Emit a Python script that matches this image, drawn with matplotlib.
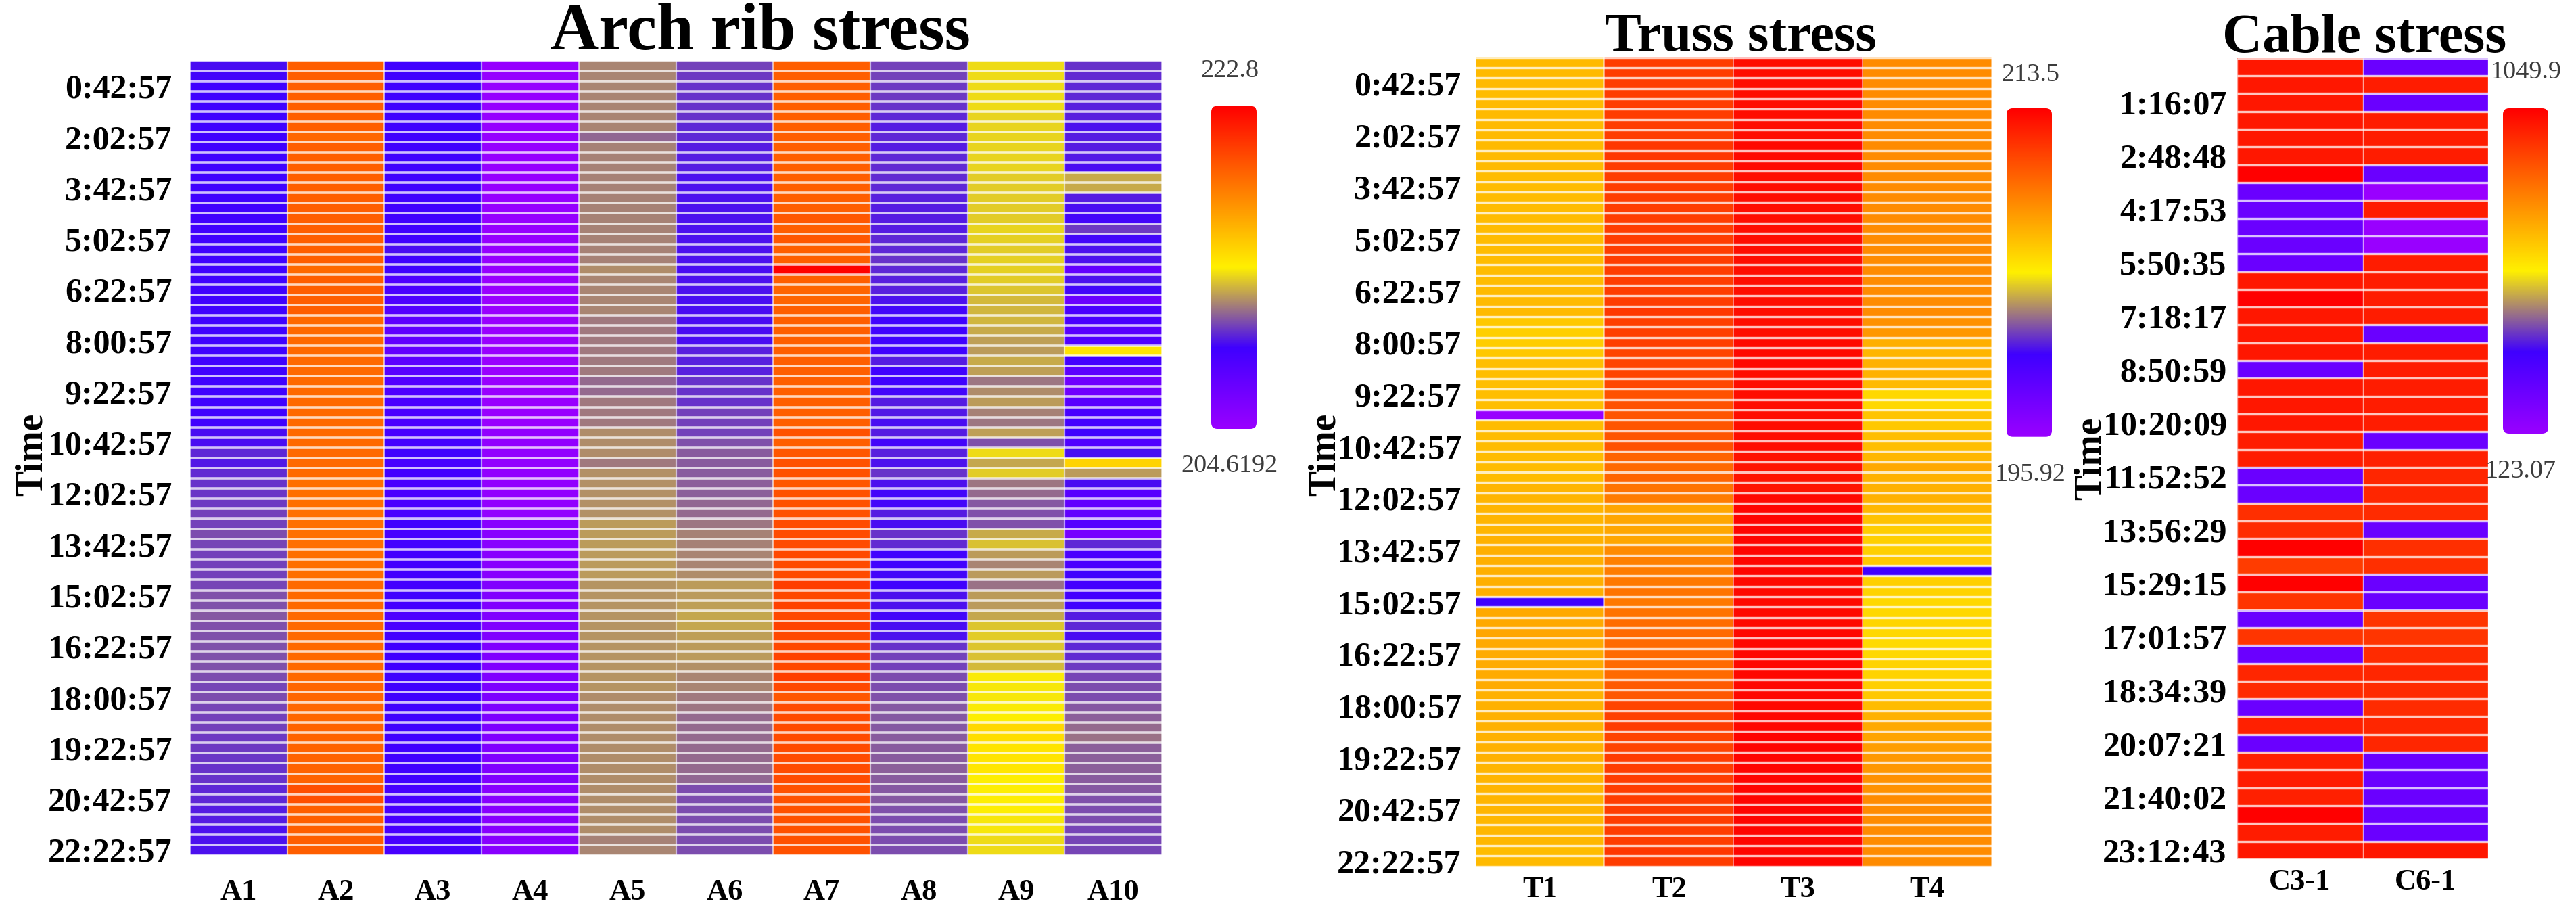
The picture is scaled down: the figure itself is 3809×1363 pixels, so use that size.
import numpy as np
import matplotlib
matplotlib.use("Agg")
import matplotlib.pyplot as plt
from matplotlib.colors import LinearSegmentedColormap
from matplotlib.patches import FancyBboxPatch

W, H = 3809, 1363
plt.rcParams['font.family'] = ['Liberation Serif', 'DejaVu Serif']

# arch rib stress, one list per member, rows top to bottom
A1 = [209.4, 209.3, 209.2, 209.2, 209.2, 209.2, 209.2, 209.2, 209.2, 209.2,
      209.2, 209.2, 209.2, 209.2, 209.2, 209.2, 209.2, 209.2, 209.2, 209.2,
      209.2, 209.2, 209.2, 209.2, 209.2, 209.2, 209.2, 209.2, 209.2, 209.2,
      209.2, 209.2, 209.2, 209.2, 209.2, 209.2, 209.4, 209.4, 209.9, 209.6,
      210.0, 210.1, 210.2, 210.3, 210.4, 210.4, 210.6, 210.5, 210.4, 210.4,
      210.4, 210.5, 210.7, 210.7, 210.8, 210.7, 210.7, 210.7, 210.7, 210.7,
      210.6, 210.5, 210.6, 210.5, 210.4, 210.4, 210.3, 210.3, 210.2, 210.1,
      210.1, 209.9, 209.9, 209.7, 209.7, 209.5, 209.5, 209.5]
A2 = [219.2, 219.2, 219.2, 219.2, 219.2, 219.2, 219.2, 218.9, 219.2, 219.2,
      219.2, 219.2, 219.2, 219.2, 219.2, 219.2, 219.2, 219.2, 219.2, 219.2,
      218.8, 219.2, 219.2, 219.2, 219.2, 218.8, 218.8, 218.8, 218.8, 218.8,
      218.8, 218.8, 218.8, 218.8, 218.8, 218.8, 218.8, 218.8, 218.8, 218.8,
      218.8, 218.6, 218.6, 218.6, 218.6, 218.6, 218.6, 218.6, 218.6, 218.6,
      218.6, 218.8, 218.8, 218.8, 218.8, 218.8, 218.8, 218.8, 218.8, 218.8,
      218.8, 218.9, 218.9, 218.9, 218.9, 219.1, 219.1, 219.1, 219.1, 219.1,
      219.1, 219.8, 219.8, 219.2, 219.2, 219.2, 219.2, 219.2]
A3 = [209.2, 209.2, 209.2, 209.2, 209.2, 209.2, 209.2, 209.2, 209.2, 209.2,
      209.2, 209.2, 209.2, 209.2, 209.2, 209.2, 209.2, 209.2, 209.4, 209.2,
      209.2, 208.4, 208.6, 208.4, 208.1, 207.7, 207.6, 207.5, 207.4, 207.7,
      207.9, 208.3, 208.4, 208.6, 208.6, 208.6, 208.8, 209.0, 209.2, 208.8,
      209.0, 208.8, 208.6, 208.6, 208.6, 209.2, 208.8, 209.0, 209.0, 209.0,
      209.0, 209.0, 209.2, 209.0, 208.4, 208.6, 209.0, 209.1, 209.1, 209.1,
      209.2, 209.2, 209.2, 209.2, 209.2, 209.2, 209.1, 209.1, 209.1, 209.1,
      209.1, 208.8, 208.8, 208.8, 208.8, 208.8, 208.8, 208.8]
A4 = [204.8, 204.8, 204.8, 204.8, 204.8, 204.8, 204.8, 204.8, 204.8, 204.8,
      204.8, 204.8, 204.8, 204.8, 204.8, 204.8, 204.8, 204.8, 204.8, 204.8,
      204.8, 204.6, 204.6, 204.6, 204.6, 204.6, 204.6, 204.6, 204.6, 204.6,
      204.6, 204.6, 204.6, 204.6, 204.6, 204.6, 205.0, 205.0, 205.0, 205.0,
      205.0, 205.0, 205.0, 205.0, 205.0, 205.5, 205.5, 205.5, 205.5, 205.5,
      205.5, 205.9, 205.9, 205.9, 205.9, 205.9, 205.9, 205.9, 205.9, 205.9,
      205.9, 206.1, 206.1, 206.1, 206.1, 206.1, 205.9, 205.9, 205.9, 205.9,
      205.9, 205.5, 205.5, 205.5, 205.5, 205.5, 205.5, 205.5]
A5 = [211.7, 211.7, 211.7, 211.7, 211.7, 211.7, 211.7, 211.1, 211.6, 211.6,
      211.6, 211.6, 211.6, 211.6, 211.6, 211.6, 211.6, 211.6, 211.6, 211.6,
      211.8, 211.7, 211.7, 211.7, 211.7, 211.5, 211.5, 211.5, 211.5, 211.5,
      211.5, 211.2, 211.2, 211.5, 211.5, 211.5, 211.8, 211.8, 211.8, 211.5,
      211.9, 211.9, 211.9, 211.9, 211.9, 212.1, 212.1, 212.1, 212.1, 212.1,
      212.1, 212.0, 212.0, 212.0, 212.0, 212.0, 212.0, 212.0, 212.0, 212.0,
      212.0, 212.0, 211.8, 211.8, 211.8, 211.8, 211.8, 211.8, 211.8, 211.8,
      211.8, 211.8, 211.8, 211.8, 211.8, 211.8, 211.6, 211.7]
A6 = [210.4, 210.3, 210.1, 210.1, 210.1, 210.1, 209.9, 209.9, 209.7, 209.7,
      209.7, 209.5, 209.5, 209.5, 209.5, 209.5, 209.5, 209.5, 209.5, 209.5,
      209.4, 209.5, 209.5, 209.4, 209.4, 209.4, 209.4, 209.4, 209.8, 209.8,
      209.8, 210.1, 210.1, 210.1, 210.4, 210.4, 210.4, 210.7, 210.9, 210.9,
      210.9, 211.0, 211.0, 211.1, 211.2, 211.4, 211.6, 211.6, 211.7, 211.7,
      211.8, 212.1, 212.1, 212.2, 212.3, 212.3, 212.2, 212.1, 212.1, 211.9,
      211.7, 211.7, 211.5, 211.4, 211.2, 211.2, 211.2, 211.2, 211.2, 211.2,
      211.1, 210.6, 210.6, 210.6, 210.6, 210.6, 210.6, 210.6]
A7 = [219.2, 219.2, 219.2, 219.2, 219.2, 219.2, 219.2, 219.2, 219.2, 219.2,
      219.2, 219.2, 219.2, 219.2, 219.2, 219.5, 219.2, 219.5, 219.2, 219.2,
      222.8, 219.2, 219.0, 219.0, 219.2, 219.2, 219.2, 219.2, 219.2, 219.2,
      219.2, 219.2, 219.2, 219.2, 219.2, 219.2, 219.7, 219.2, 219.5, 219.7,
      219.7, 219.5, 219.7, 219.7, 219.7, 219.9, 219.9, 219.9, 220.1, 219.9,
      219.9, 220.4, 220.1, 220.3, 220.1, 220.3, 220.1, 220.1, 220.3, 220.1,
      220.4, 220.1, 219.5, 219.9, 219.9, 219.9, 219.9, 219.9, 219.9, 219.9,
      219.9, 219.7, 219.7, 219.7, 219.7, 219.7, 219.7, 219.7]
A8 = [210.4, 210.4, 210.3, 210.3, 210.1, 209.9, 209.7, 209.9, 209.7, 209.9,
      210.0, 210.0, 209.9, 209.8, 209.7, 209.7, 209.7, 209.9, 209.9, 210.1,
      209.9, 209.8, 209.8, 209.5, 209.3, 209.2, 209.2, 209.2, 209.2, 209.7,
      209.2, 209.2, 209.3, 209.7, 209.6, 209.4, 209.7, 209.3, 209.8, 209.5,
      210.1, 209.5, 209.3, 209.3, 209.7, 209.4, 210.1, 210.0, 209.2, 209.2,
      209.3, 209.2, 209.5, 209.5, 209.3, 209.4, 209.5, 210.1, 210.4, 210.4,
      210.6, 210.6, 210.7, 210.8, 210.8, 210.8, 210.9, 210.9, 210.9, 211.0,
      210.9, 210.8, 210.8, 210.7, 210.6, 210.6, 210.6, 210.6]
A9 = [213.3, 213.3, 213.3, 213.3, 213.3, 213.2, 213.2, 213.2, 213.2, 213.2,
      213.2, 213.0, 213.0, 213.0, 213.0, 213.0, 213.2, 213.1, 213.0, 213.1,
      213.1, 213.0, 212.9, 212.7, 212.6, 212.6, 212.4, 212.2, 212.1, 212.4,
      212.2, 211.4, 211.8, 212.1, 211.6, 211.4, 212.2, 210.7, 213.3, 212.3,
      213.0, 211.4, 211.2, 210.8, 210.7, 210.7, 212.4, 212.8, 212.1, 211.7,
      212.1, 211.3, 212.1, 212.1, 212.3, 212.9, 213.0, 212.9, 212.8, 212.7,
      213.6, 213.5, 213.5, 213.6, 213.7, 214.6, 214.4, 214.2, 214.2, 214.1,
      213.7, 213.7, 213.7, 213.7, 213.5, 213.5, 213.3, 213.3]
A10 = [210.1, 210.0, 209.9, 209.9, 209.8, 209.8, 209.5, 209.7, 209.7, 209.6,
       209.4, 212.4, 212.4, 209.7, 209.4, 209.3, 210.3, 209.3, 209.5, 209.5,
       207.4, 209.5, 209.3, 207.0, 208.6, 208.6, 207.9, 208.3, 214.2, 208.9,
       207.7, 206.8, 206.8, 207.9, 208.8, 208.9, 209.2, 208.3, 209.4, 214.8,
       212.1, 209.4, 207.9, 207.5, 207.5, 208.1, 206.4, 209.9, 208.6, 208.6,
       209.2, 209.0, 209.0, 209.2, 209.7, 209.9, 209.4, 209.9, 210.0, 210.3,
       210.5, 210.6, 210.6, 210.8, 211.0, 211.2, 211.3, 211.0, 211.0, 211.0,
       210.9, 210.8, 210.7, 210.6, 210.6, 210.5, 210.5, 210.5]

# truss stress
T1 = [206.7, 206.7, 206.7, 206.6, 206.7, 206.7, 206.7, 206.7, 206.7, 206.7,
      206.7, 206.6, 206.6, 206.6, 206.6, 206.6, 206.6, 206.6, 206.6, 206.6,
      206.6, 206.6, 206.7, 206.7, 206.7, 206.2, 205.9, 206.0, 206.2, 206.5,
      206.5, 206.5, 206.5, 206.5, 195.9, 206.6, 206.6, 206.6, 206.6, 206.6,
      206.6, 206.9, 206.9, 206.9, 206.9, 206.9, 207.0, 207.1, 207.1, 207.1,
      207.1, 207.1, 200.3, 207.3, 207.3, 207.4, 207.3, 207.2, 207.2, 207.2,
      207.2, 207.0, 207.0, 207.0, 207.0, 207.0, 207.0, 207.0, 206.9, 206.9,
      206.9, 206.9, 206.9, 206.8, 206.8, 206.8, 206.6, 206.7]
T2 = [211.3, 211.3, 211.3, 211.3, 211.3, 211.3, 211.3, 211.3, 211.5, 211.5,
      211.3, 211.3, 211.3, 211.3, 211.3, 211.3, 211.3, 211.3, 211.3, 211.3,
      211.3, 211.3, 211.3, 211.3, 211.5, 211.2, 211.2, 211.2, 211.0, 211.0,
      211.0, 210.9, 210.5, 210.5, 210.4, 210.4, 210.4, 210.5, 209.8, 209.6,
      209.8, 209.3, 208.9, 207.4, 207.4, 207.4, 207.4, 208.4, 208.8, 208.9,
      209.1, 209.3, 209.1, 209.3, 209.5, 209.6, 209.6, 209.6, 209.6, 209.6,
      210.2, 210.3, 211.0, 211.1, 211.3, 211.0, 211.0, 211.3, 211.3, 211.3,
      211.3, 211.3, 211.3, 211.3, 211.3, 211.3, 211.5, 211.3]
T3 = [213.0, 213.0, 213.0, 213.0, 213.0, 213.0, 213.0, 213.0, 213.1, 213.1,
      213.1, 213.0, 213.0, 213.0, 213.0, 213.0, 213.0, 213.0, 213.0, 213.0,
      213.0, 213.0, 213.0, 213.0, 213.0, 213.0, 213.0, 213.2, 213.2, 213.2,
      213.0, 213.0, 213.0, 213.0, 213.0, 213.0, 213.0, 213.0, 212.8, 212.8,
      212.8, 212.8, 213.2, 213.3, 213.3, 213.3, 213.3, 213.3, 213.3, 213.3,
      213.2, 213.2, 213.2, 213.2, 213.2, 213.2, 213.2, 213.2, 213.2, 213.2,
      213.2, 213.2, 213.2, 213.2, 213.2, 213.3, 213.3, 213.3, 213.3, 213.3,
      213.3, 213.3, 213.3, 213.3, 213.3, 213.3, 213.3, 213.3]
T4 = [208.4, 208.4, 208.4, 208.4, 208.4, 208.4, 208.4, 208.4, 208.4, 208.4,
      208.4, 208.4, 208.4, 208.4, 208.4, 208.4, 208.4, 208.4, 208.4, 208.4,
      208.4, 208.4, 208.4, 208.4, 208.4, 208.2, 208.0, 207.1, 206.9, 207.0,
      207.0, 206.7, 205.6, 205.6, 206.3, 206.2, 206.5, 206.5, 206.8, 207.3,
      207.0, 207.0, 207.0, 206.8, 206.4, 206.0, 205.9, 205.9, 206.1, 200.3,
      205.9, 205.8, 205.6, 205.6, 205.7, 205.6, 205.5, 205.6, 205.8, 205.8,
      205.9, 206.2, 206.6, 207.0, 207.3, 207.5, 207.7, 207.9, 208.0, 208.2,
      208.2, 208.4, 208.4, 208.4, 208.4, 208.4, 208.4, 208.4]

# cable stress
C3_1 = [1003.6, 1003.6, 1003.6, 1003.6, 1003.6, 1003.6, 1049.9, 246.0, 246.0, 246.0,
        246.0, 246.0, 1003.6, 1049.9, 1003.6, 1003.6, 1003.6, 246.0, 1003.6, 1003.6,
        1003.6, 994.3, 994.3, 246.0, 246.0, 957.2, 966.5, 1049.9, 934.0, 1049.9,
        948.0, 246.0, 948.0, 246.0, 975.8, 966.5, 246.0, 985.0, 246.0, 985.0,
        994.3, 985.0, 1049.9, 994.3, 1003.6]
C6_1 = [246.0, 994.3, 246.0, 994.3, 994.3, 994.3, 246.0, 123.1, 994.3, 123.1,
        123.1, 994.3, 994.3, 994.3, 994.3, 246.0, 994.3, 994.3, 994.3, 994.3,
        994.3, 246.0, 985.0, 975.8, 975.8, 966.5, 246.0, 957.2, 957.2, 246.0,
        246.0, 948.0, 948.0, 966.5, 975.8, 966.5, 966.5, 975.8, 975.8, 246.0,
        246.0, 246.0, 246.0, 246.0, 1003.6]

arch_cols = ["A1", "A2", "A3", "A4", "A5", "A6", "A7", "A8", "A9", "A10"]
truss_cols = ["T1", "T2", "T3", "T4"]
cable_cols = ["C3-1", "C6-1"]
arch_times = ["0:42:57", "2:02:57", "3:42:57", "5:02:57", "6:22:57", "8:00:57", "9:22:57", "10:42:57",
              "12:02:57", "13:42:57", "15:02:57", "16:22:57", "18:00:57", "19:22:57", "20:42:57", "22:22:57"]
cable_times = ["1:16:07", "2:48:48", "4:17:53", "5:50:35", "7:18:17", "8:50:59", "10:20:09", "11:52:52",
               "13:56:29", "15:29:15", "17:01:57", "18:34:39", "20:07:21", "21:40:02", "23:12:43"]

cmap = LinearSegmentedColormap.from_list(
    "stress", [(0, "#9900ff"), (0.25, "#3f00ff"), (0.5, "#fff000"), (1, "#ff0000")])

fig = plt.figure(figsize=(W / 100, H / 100), dpi=100, facecolor="white")


def px_axes(left, top, right, bottom):
    return fig.add_axes([left / W, 1 - bottom / H, (right - left) / W, (bottom - top) / H])


def heat(box, columns, names, times, step, vmin, vmax, row_gap, col_gap, ypad, xpad):
    ax = px_axes(*box)
    data = np.array(columns).T
    ax.pcolormesh(data, cmap=cmap, vmin=vmin, vmax=vmax)
    ax.set_ylim(data.shape[0], 0)
    # pale separators, the original has blurred cell borders
    ax.hlines(np.arange(data.shape[0] + 1), 0, data.shape[1], colors="white", lw=row_gap * 0.72, alpha=0.75)
    ax.vlines(np.arange(data.shape[1] + 1), 0, data.shape[0], colors="white", lw=col_gap * 0.72, alpha=0.6)
    ax.set_xticks(np.arange(data.shape[1]) + 0.5, names, fontsize=32, fontweight="bold")
    ax.set_yticks(np.arange(2, data.shape[0], step) + 0.5, times, fontsize=36, fontweight="bold")
    ax.tick_params(axis="x", length=0, pad=xpad)
    ax.tick_params(axis="y", length=0, pad=ypad)
    for s in ax.spines.values():
        s.set_visible(False)
    return ax


def colorbar(box, top_label, bottom_label, top_xy, bottom_xy):
    ax = px_axes(*box)
    grad = np.linspace(1, 0, 256).reshape(-1, 1)
    im = ax.imshow(grad, cmap=cmap, vmin=0, vmax=1, aspect="auto", extent=[0, 1, 0, 1])
    ax.axis("off")
    w = box[2] - box[0]
    h = box[3] - box[1]
    clip = FancyBboxPatch((0, 0), 1, 1, boxstyle=f"round,pad=0,rounding_size={9 / w}",
                          mutation_aspect=w / h, transform=ax.transAxes, fc="none", ec="none")
    ax.add_patch(clip)
    im.set_clip_path(clip)
    fig.text(top_xy[0] / W, 1 - top_xy[1] / H, top_label, fontsize=27.5, color="#3c3c3c", ha="center", va="center")
    fig.text(bottom_xy[0] / W, 1 - bottom_xy[1] / H, bottom_label, fontsize=27.5, color="#3c3c3c", ha="center", va="center")


heat((281, 89.6, 1718, 1264), [A1, A2, A3, A4, A5, A6, A7, A8, A9, A10], arch_cols, arch_times, 5,
     204.6192, 222.8, 3.6, 2.2, 19, 25)
heat((2181.6, 84.5, 2945, 1280.7), [T1, T2, T3, T4], truss_cols, arch_times, 5,
     195.92, 213.5, 3.4, 1.6, 15, 10)
heat((3308, 85.7, 3679, 1270), [C3_1, C6_1], cable_cols, cable_times, 3,
     123.07, 1049.9, 3.4, 1.4, 11, 10)

colorbar((1791, 156.5, 1858, 634), "222.8", "204.6192", (1818, 105), (1818, 689))
colorbar((2967, 160, 3034, 645.7), "213.5", "195.92", (3002, 111), (3002, 702))
colorbar((3701, 160, 3768, 641), "1049.9", "123.07", (3735, 107), (3727, 697))

fig.text(1124 / W, 1 - 73 / H, "Arch rib stress", fontsize=71, fontweight="bold", ha="center", va="baseline")
fig.text(2574 / W, 1 - 75 / H, "Truss stress", fontsize=58, fontweight="bold", ha="center", va="baseline")
fig.text(3496 / W, 1 - 77 / H, "Cable stress", fontsize=59, fontweight="bold", ha="center", va="baseline")

fig.text(48 / W, 1 - 672 / H, "Time", fontsize=40, fontweight="bold", rotation=90, ha="center", va="center")
fig.text(1960 / W, 1 - 672 / H, "Time", fontsize=40, fontweight="bold", rotation=90, ha="center", va="center")
fig.text(3092 / W, 1 - 678 / H, "Time", fontsize=40, fontweight="bold", rotation=90, ha="center", va="center")

fig.savefig("out.png", dpi=100)
